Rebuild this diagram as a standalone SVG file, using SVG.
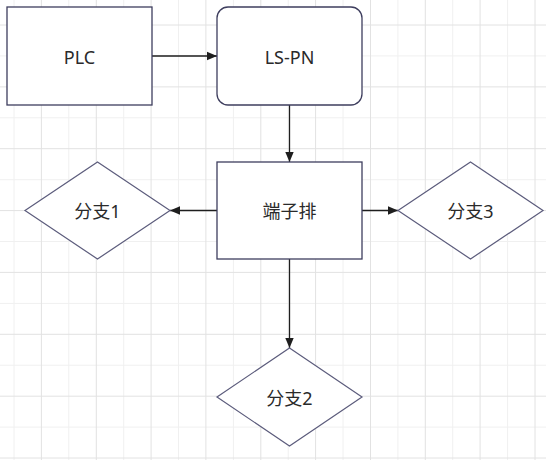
<svg xmlns="http://www.w3.org/2000/svg" width="546" height="460" viewBox="0 0 546 460">
<defs>
<style>
.node{fill:#fff;stroke:#3e3e5e;stroke-width:1.3}
.dia{fill:#fff;stroke:#5c5c7c;stroke-width:1.2}
.lbl{font-family:"Noto Sans","Noto Sans CJK SC",sans-serif;font-size:18px;fill:#2a2a2a;text-anchor:middle;dominant-baseline:central}
.edge{stroke:#1e1e1e;stroke-width:1.3;fill:none}
.g1{stroke:#e2e2e2;stroke-width:1}
.g2{stroke:#f0f0f0;stroke-width:1}
</style>
<marker id="arr" viewBox="0 0 10 10" refX="10" refY="5" markerWidth="10" markerHeight="10" markerUnits="userSpaceOnUse" orient="auto">
<path d="M0,0.8 L10,5 L0,9.2 Z" fill="#1e1e1e"/>
</marker>
</defs>
<rect width="546" height="460" fill="#fff"/>
<g id="grid">
<g class="g2">
<line x1="14" y1="0" x2="14" y2="460"/><line x1="68.8" y1="0" x2="68.8" y2="460"/><line x1="123.7" y1="0" x2="123.7" y2="460"/><line x1="178.5" y1="0" x2="178.5" y2="460"/><line x1="233.4" y1="0" x2="233.4" y2="460"/><line x1="288.2" y1="0" x2="288.2" y2="460"/><line x1="343" y1="0" x2="343" y2="460"/><line x1="397.9" y1="0" x2="397.9" y2="460"/><line x1="452.7" y1="0" x2="452.7" y2="460"/><line x1="507.6" y1="0" x2="507.6" y2="460"/>
<line x1="0" y1="55.9" x2="546" y2="55.9"/><line x1="0" y1="117.8" x2="546" y2="117.8"/><line x1="0" y1="179.7" x2="546" y2="179.7"/><line x1="0" y1="241.5" x2="546" y2="241.5"/><line x1="0" y1="303.4" x2="546" y2="303.4"/><line x1="0" y1="365.2" x2="546" y2="365.2"/><line x1="0" y1="427.1" x2="546" y2="427.1"/>
</g>
<g class="g1">
<line x1="41.4" y1="0" x2="41.4" y2="460"/><line x1="96.3" y1="0" x2="96.3" y2="460"/><line x1="151.1" y1="0" x2="151.1" y2="460"/><line x1="205.9" y1="0" x2="205.9" y2="460"/><line x1="260.8" y1="0" x2="260.8" y2="460"/><line x1="315.6" y1="0" x2="315.6" y2="460"/><line x1="370.5" y1="0" x2="370.5" y2="460"/><line x1="425.3" y1="0" x2="425.3" y2="460"/><line x1="480.1" y1="0" x2="480.1" y2="460"/><line x1="535" y1="0" x2="535" y2="460"/>
<line x1="0" y1="25" x2="546" y2="25"/><line x1="0" y1="86.9" x2="546" y2="86.9"/><line x1="0" y1="148.7" x2="546" y2="148.7"/><line x1="0" y1="210.6" x2="546" y2="210.6"/><line x1="0" y1="272.4" x2="546" y2="272.4"/><line x1="0" y1="334.3" x2="546" y2="334.3"/><line x1="0" y1="396.2" x2="546" y2="396.2"/><line x1="0" y1="458" x2="546" y2="458"/>
</g>
</g>
<g id="connectors">
<line class="edge" x1="152" y1="56" x2="217" y2="56" marker-end="url(#arr)"/>
<line class="edge" x1="289.5" y1="105" x2="289.5" y2="162" marker-end="url(#arr)"/>
<line class="edge" x1="217" y1="210.5" x2="170" y2="210.5" marker-end="url(#arr)"/>
<line class="edge" x1="362" y1="210.5" x2="398" y2="210.5" marker-end="url(#arr)"/>
<line class="edge" x1="289.5" y1="259" x2="289.5" y2="348" marker-end="url(#arr)"/>
</g>
<g id="node-plc">
<rect class="node" x="7" y="7" width="145" height="98"/>
<text class="lbl" x="79.5" y="57">PLC</text>
</g>
<g id="node-lspn">
<rect class="node" x="217" y="7" width="145" height="98" rx="11" ry="11"/>
<text class="lbl" x="289.5" y="57">LS-PN</text>
</g>
<g id="node-terminal">
<rect class="node" x="217" y="162" width="145" height="97"/>
<text class="lbl" x="289.5" y="211">端子排</text>
</g>
<g id="node-branch1">
<polygon class="dia" points="97.5,162 170,210.5 97.5,259 25,210.5"/>
<text class="lbl" x="97.5" y="211">分支1</text>
</g>
<g id="node-branch3">
<polygon class="dia" points="470.5,162 543,210.5 470.5,259 398,210.5"/>
<text class="lbl" x="470.5" y="211">分支3</text>
</g>
<g id="node-branch2">
<polygon class="dia" points="289.5,348 362,397 289.5,446 217,397"/>
<text class="lbl" x="289.5" y="397.5">分支2</text>
</g>
</svg>
